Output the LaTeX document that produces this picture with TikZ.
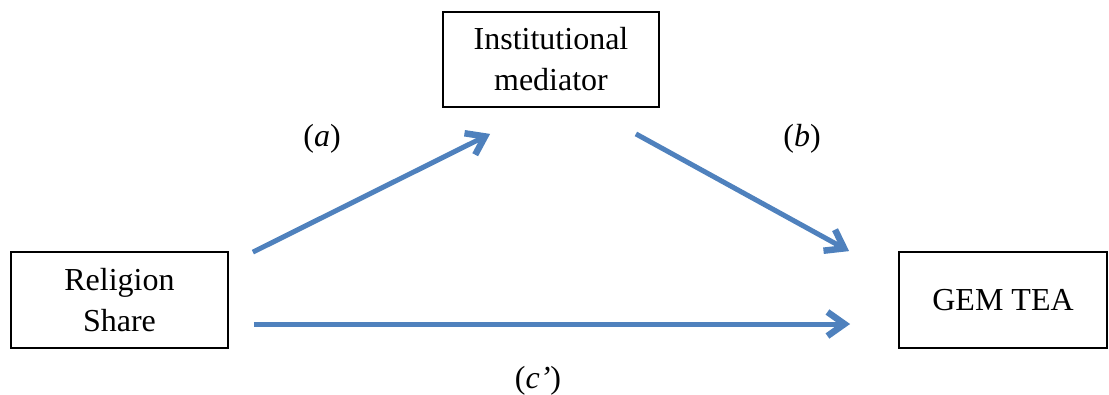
\documentclass[tikz,border=0pt]{standalone}
\usepackage{fontspec}
\setmainfont{Liberation Serif}
\usetikzlibrary{arrows.meta,calc}
\definecolor{arrowblue}{RGB}{79,129,189}
\tikzset{
  box/.style={draw=black, line width=1.8pt, align=center, inner sep=0pt,
    font=\fontsize{32}{41}\selectfont},
  flow/.style={draw=arrowblue, line width=5pt,
    -{Straight Barb[length=17pt,width=24pt,line width=6.5pt]}},
  lbl/.style={font=\fontsize{32}{38}\selectfont, inner sep=0pt}
}
\begin{document}
\begin{tikzpicture}[x=1pt,y=-1pt]
\useasboundingbox (0,0) rectangle (1109,394);
\node[box, minimum width=217pt, minimum height=96pt] (rel) at (119.5,300) {Religion\\Share};
\node[box, minimum width=216pt, minimum height=95pt] (inst) at (551,59.5) {Institutional\\mediator};
\node[box, minimum width=208pt, minimum height=96pt] (gem) at (1003,300) {GEM TEA};
\coordinate (a0) at ($(rel.north east)+(24,1)$);
\coordinate (a1) at ($(inst.south west)+(48,26)$);
\coordinate (b0) at ($(inst.south east)+(-24,26)$);
\coordinate (b1) at ($(gem.north west)+(-49,0)$);
\coordinate (c0) at ($(rel.east)+(25,24)$);
\coordinate (c1) at ($(gem.west)+(-48,24)$);
\draw[flow] (a0) -- (a1);
\draw[flow] (b0) -- (b1);
\draw[flow] (c0) -- (c1);
\node[lbl] (la) at (322,139) {(\textit{a})};
\node[lbl] (lb) at (802,139) {(\textit{b})};
\node[lbl] (lc) at (538,381) {(\textit{c’})};
\end{tikzpicture}
\end{document}
